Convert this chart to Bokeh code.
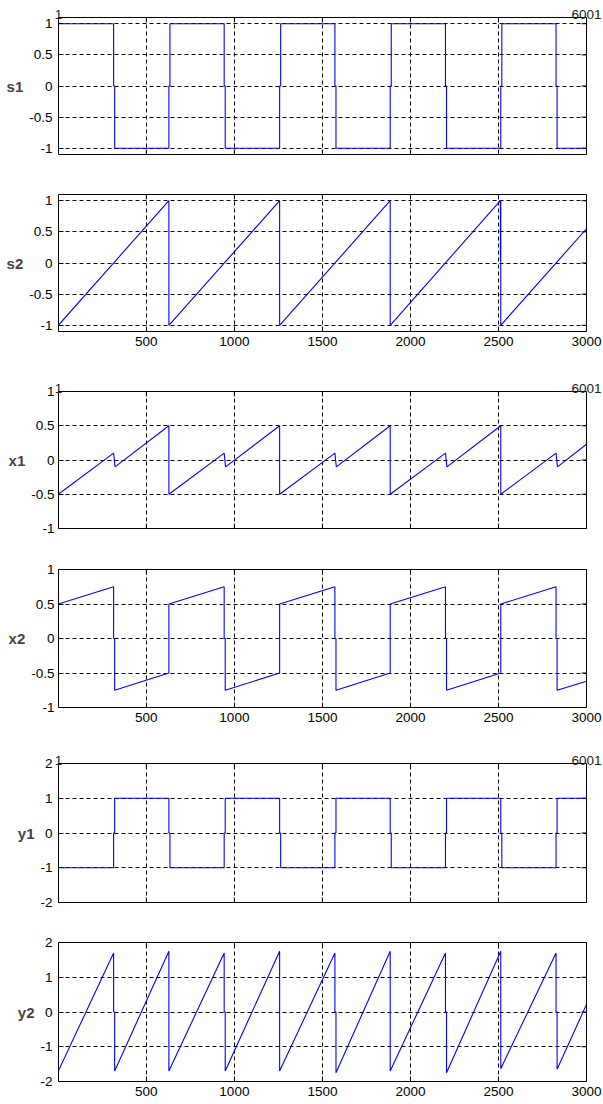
import math
from bokeh.plotting import figure
from bokeh.layouts import column
from bokeh.models import FixedTicker, LinearAxis, Range1d
from bokeh.embed import file_html
from bokeh.resources import INLINE

# ---------------- data ----------------
x_start, x_end = 1, 3000
x_ticks = [500, 1000, 1500, 2000, 2500, 3000]
idx_ticks = [1, 3000]
idx_labels = ["1", "6001"]

# times of the transitions of the square waves
edges = [314, 628, 942, 1257, 1571, 1885, 2199, 2513, 2827]
dwell = 6  # short stay at zero during a transition

s1_levels = [1, -1, 1, -1, 1, -1, 1, -1, 1, -1]
y1_levels = [-1, 1, -1, 1, -1, 1, -1, 1, -1, 1]

s2_t = [0, 628, 628, 1257, 1257, 1885, 1885, 2511, 2511, 2512, 2512, 2513, 2513, 3000]
s2_v = [-1, 1, -1, 1, -1, 1, -1, 1, 0.05, 1, 0.05, 1, -1, 0.55]

x1_t = [0, 314, 322, 628, 628, 942, 950, 1257, 1257, 1571, 1579, 1885, 1885,
        2199, 2207, 2513, 2513, 2827, 2835, 3000]
x1_v = [-0.5, 0.1, -0.1, 0.5, -0.5, 0.1, -0.1, 0.5, -0.5, 0.1, -0.1, 0.5, -0.5,
        0.1, -0.1, 0.5, -0.5, 0.1, -0.1, 0.23]

x2_t = [0, 314, 314, 320, 320, 628, 628, 942, 942, 948, 948, 1257, 1257,
        1571, 1571, 1577, 1577, 1885, 1885, 2199, 2199, 2205, 2205, 2513, 2513,
        2827, 2827, 2833, 2833, 3000]
x2_v = [0.5, 0.75, 0, 0, -0.75, -0.5, 0.5, 0.75, 0, 0, -0.75, -0.5, 0.5,
        0.75, 0, 0, -0.75, -0.5, 0.5, 0.75, 0, 0, -0.75, -0.5, 0.5,
        0.75, 0, 0, -0.75, -0.62]

y2_t = [0, 314, 314, 320, 320, 628, 628, 942, 942, 948, 948, 1257, 1257,
        1571, 1571, 1577, 1577, 1885, 1885, 2199, 2199, 2205, 2205, 2513, 2513,
        2827, 2827, 2833, 2833, 3000]
y2_v = [-1.7, 1.7, 0, 0, -1.7, 1.75, -1.7, 1.7, 0, 0, -1.7, 1.75, -1.7,
        1.7, 0, 0, -1.75, 1.75, -1.7, 1.7, 0, 0, -1.75, 1.75, -1.63,
        1.7, 0, 0, -1.65, 0.22]

yticks_a = [-1, -0.5, 0, 0.5, 1]
ylabels_a = ["-1", "-0.5", "0", "0.5", "1"]
yticks_b = [-2, -1, 0, 1, 2]
ylabels_b = ["-2", "-1", "0", "1", "2"]


def step_path(levels):
    t, v = [0], [levels[0]]
    for i, e in enumerate(edges):
        t += [e, e, e + dwell, e + dwell]
        v += [levels[i], 0, 0, levels[i + 1]]
    t.append(x_end)
    v.append(levels[-1])
    return t, v


s1_t, s1_v = step_path(s1_levels)
y1_t, y1_v = step_path(y1_levels)

FONT = "Liberation Sans"
TICK_FS = "13.5px"
W = 603


def style_axis(ax, standoff):
    ax.axis_line_color = None
    ax.major_tick_in = 5
    ax.major_tick_out = 0
    ax.major_tick_line_color = "black"
    ax.minor_tick_line_color = None
    ax.major_label_text_font = FONT
    ax.major_label_text_color = "black"
    ax.major_label_text_font_size = TICK_FS
    ax.major_label_standoff = standoff


def panel(t, v, name, yr, yticks, ylabels, height, top, bottom, left, right,
          show_x, show_idx, ystandoff):
    p = figure(width=W, height=height, output_backend="svg", toolbar_location=None,
               x_range=Range1d(x_start, x_end), y_range=Range1d(*yr),
               x_axis_location="below" if show_x else None,
               min_border_left=left, min_border_right=right,
               min_border_top=top, min_border_bottom=bottom,
               background_fill_color="white", border_fill_color="white",
               outline_line_color="black", outline_line_width=1)
    xt = FixedTicker(ticks=x_ticks)
    yt = FixedTicker(ticks=yticks)
    for g, tk in ((p.xgrid, xt), (p.ygrid, yt)):
        g.ticker = tk
        g.grid_line_color = "black"
        g.grid_line_dash = "4 3"
        g.grid_line_width = 1
        g.grid_line_alpha = 1.0

    if show_x:
        p.xaxis.ticker = xt
        style_axis(p.xaxis[0], 5)
    p.yaxis.ticker = yt
    yax = p.yaxis[0]
    style_axis(yax, ystandoff)
    yax.major_label_overrides = {k: s for k, s in zip(yticks, ylabels)}
    yax.axis_label = name
    yax.axis_label_text_font = FONT
    yax.axis_label_text_font_style = "bold"
    yax.axis_label_text_font_size = "15px"
    yax.axis_label_standoff = 3
    yax.axis_label_orientation = "horizontal"

    if show_idx:
        top_ax = LinearAxis(ticker=FixedTicker(ticks=idx_ticks))
        style_axis(top_ax, -1)
        top_ax.major_tick_line_color = None
        top_ax.major_label_text_color = "#222222"
        top_ax.major_label_overrides = {k: s for k, s in zip(idx_ticks, idx_labels)}
        p.add_layout(top_ax, "above")

    # inward box ticks on the sides without tick labels
    tick_style = dict(marker="dash", size=10, line_color="black", line_width=1)
    p.scatter(x=x_ticks, y=[yr[1]] * len(x_ticks), angle=math.pi / 2, **tick_style)
    if not show_x:
        p.scatter(x=x_ticks, y=[yr[0]] * len(x_ticks), angle=math.pi / 2, **tick_style)
    p.scatter(x=[x_end] * len(yticks), y=yticks, **tick_style)

    p.line(t, v, line_color="#0000FF", line_width=1.1)
    return p


p1 = panel(s1_t, s1_v, "s1", (-1.1, 1.1), yticks_a, ylabels_a, 174, 17, 20, 58, W - 586, False, True, 6)
p2 = panel(s2_t, s2_v, "s2", (-1.1, 1.1), yticks_a, ylabels_a, 186, 20, 29, 58, W - 586, True, False, 6)
p3 = panel(x1_t, x1_v, "x1", (-1, 1), yticks_a, ylabels_a, 188, 31, 20, 55, W - 589, False, True, 4)
p4 = panel(x2_t, x2_v, "x2", (-1, 1), yticks_a, ylabels_a, 187, 21, 28, 55, W - 589, True, False, 4)
p5 = panel(y1_t, y1_v, "y1", (-2, 2), yticks_b, ylabels_b, 187, 28, 20, 49, W - 588, False, True, 6)
p6 = panel(y2_t, y2_v, "y2", (-2, 2), yticks_b, ylabels_b, 181, 20, 22, 49, W - 588, True, False, 6)

layout = column(p1, p2, p3, p4, p5, p6)
open("out.html", "w").write(file_html(layout, INLINE))
